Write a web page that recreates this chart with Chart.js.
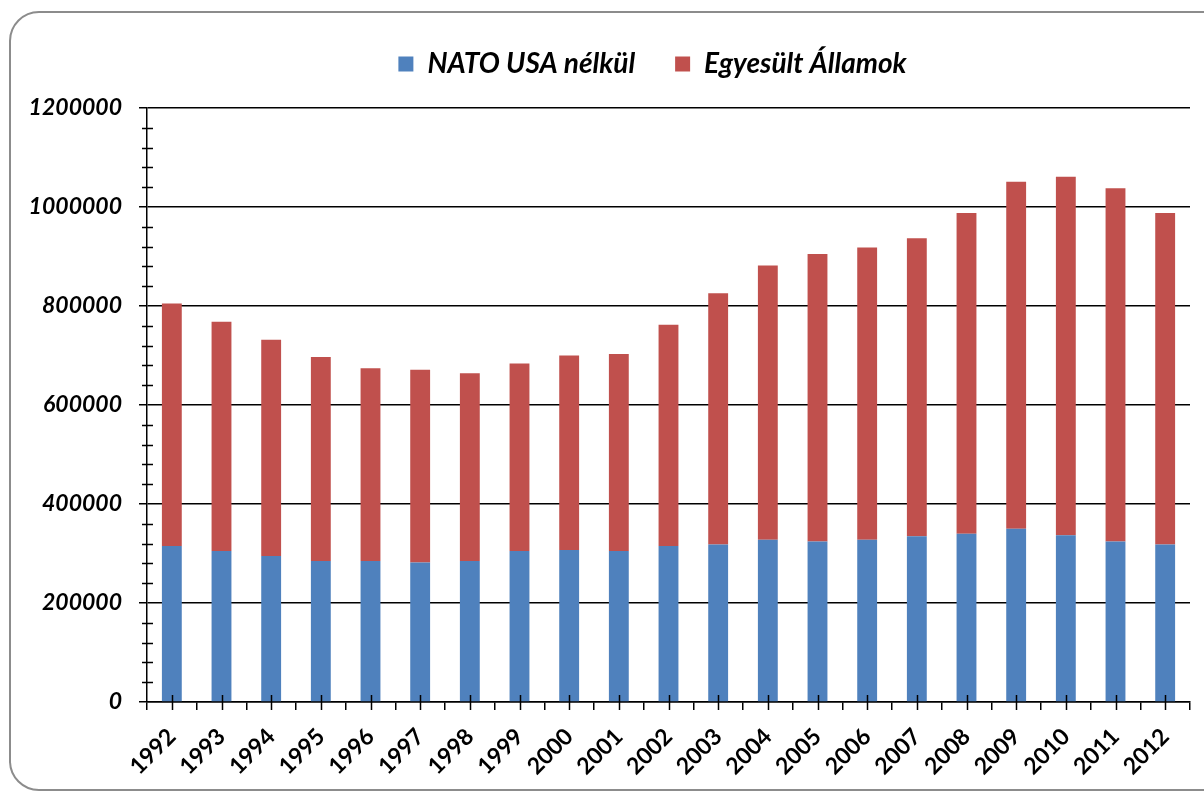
<!DOCTYPE html>
<html>
<head>
<meta charset="utf-8">
<script src="https://cdn.jsdelivr.net/npm/chart.js@4"></script>
<style>
    body { margin: 0; background: #fff; overflow: hidden; }
    #frame {
        position: absolute; left: 9px; top: 11px;
        width: 1240px; height: 776px;
        border: 2px solid #8c8c8c; border-radius: 30px;
    }
    #wrap { position: absolute; left: 0; top: 0; width: 1204px; height: 792px; }
</style>
</head>
<body>
<div id="frame"></div>
<div id="wrap"><canvas id="natoChart"></canvas></div>
<script>
const years = ['1992', '1993', '1994', '1995', '1996', '1997', '1998', '1999', '2000', '2001', '2002',
    '2003', '2004', '2005', '2006', '2007', '2008', '2009', '2010', '2011', '2012']
const natoWithoutUsa = [315000, 305000, 295000, 285000, 285000, 282000, 285000, 305000, 307000, 305000, 315000,
    318000, 328000, 324000, 328000, 335000, 340000, 350000, 337000, 324000, 318000]
const unitedStates = [490000, 463000, 437000, 412000, 389000, 389000, 379000, 379000, 393000, 398000, 447000,
    508000, 554000, 581000, 590000, 602000, 648000, 701000, 724000, 714000, 670000]
const yMax = 1200000
const yStep = 200000
const yMinorStep = 40000

const yTickFont = { family: 'Lato', size: 23, weight: 'bold', style: 'italic' }
const xTickFont = { family: 'Lato', size: 23, weight: 'bold' }
const legendFont = { family: 'Lato', size: 28, weight: 'bold', style: 'italic' }

// small tick marks excel draws: crossing ticks at the bar centres and minor y ticks
const extraTicks = {
    id: 'extraTicks',
    afterInit(chart) {
        // leave more room under the legend
        const fit = chart.legend.fit
        chart.legend.fit = function () {
            fit.call(this)
            this.height += 20
        }
    },
    afterLayout(chart) {
        // legend sits a bit left of the plot centre
        chart.legend.left -= 32
    },
    afterDraw(chart) {
        const ctx = chart.ctx
        const x = chart.scales.x
        const y = chart.scales.y
        ctx.save()
        ctx.strokeStyle = '#000'
        ctx.lineWidth = 1.5
        ctx.beginPath()
        for (let i = 0; i < years.length; i++) {
            const px = Math.round(x.getPixelForValue(i)) + 0.5
            ctx.moveTo(px, y.bottom - 7)
            ctx.lineTo(px, y.bottom + 8)
        }
        for (let v = yMinorStep; v < yMax; v += yMinorStep) {
            if (v % yStep === 0) continue
            const py = Math.round(y.getPixelForValue(v)) + 0.5
            ctx.moveTo(y.right - 5, py)
            ctx.lineTo(y.right + 6, py)
        }
        ctx.stroke()
        ctx.restore()
    }
}

const natoData = {
    labels: years,
    datasets: [{
        label: 'NATO USA nélkül',
        backgroundColor: '#4F81BD',
        data: natoWithoutUsa,
    }, {
        label: 'Egyesült Államok',
        backgroundColor: '#C0504D',
        data: unitedStates,
    }]
}

const natoConfig = {
    type: 'bar',
    data: natoData,
    plugins: [extraTicks],
    options: {
        responsive: true,
        maintainAspectRatio: false,
        animation: false,
        layout: {
            padding: { top: 10, left: 10, right: 14, bottom: 0 }
        },
        datasets: {
            bar: { barPercentage: 0.4, categoryPercentage: 1 }
        },
        scales: {
            x: {
                stacked: true,
                grid: { drawOnChartArea: false, color: '#000', lineWidth: 1.5, tickLength: 8 },
                border: { color: '#000', width: 1.5 },
                ticks: { color: '#000', font: xTickFont, maxRotation: 45, minRotation: 45, padding: 13 },
                afterFit(scale) { scale.height = 90 }
            },
            y: {
                stacked: true,
                min: 0,
                max: yMax,
                grid: { color: '#000', lineWidth: 1.5, tickLength: 8 },
                border: { color: '#000', width: 1.5 },
                ticks: {
                    color: '#000',
                    font: yTickFont,
                    stepSize: yStep,
                    padding: 17,
                    callback: (value) => String(value)
                },
                afterFit(scale) { scale.width = 137 }
            }
        },
        plugins: {
            legend: {
                position: 'top',
                fullSize: false,
                labels: {
                    color: '#000',
                    font: legendFont,
                    boxWidth: 15,
                    boxHeight: 15,
                    padding: 40
                }
            },
            tooltip: { enabled: false }
        }
    }
}

const natoChart = new Chart(
    document.getElementById('natoChart'),
    natoConfig
)
</script>
</body>
</html>
